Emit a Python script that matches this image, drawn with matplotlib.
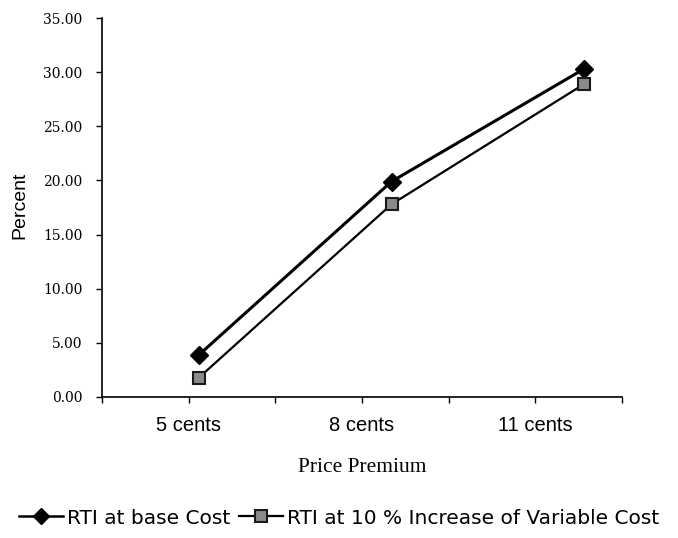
import numpy as np
import matplotlib
matplotlib.use("Agg")
import matplotlib.pyplot as plt
from matplotlib.lines import Line2D

categories = ["5 cents", "8 cents", "11 cents"]
rti_base = [3.9, 19.9, 30.3]
rti_var10 = [1.8, 17.8, 28.9]
y_ticks = [0, 5, 10, 15, 20, 25, 30, 35]
series_names = ["RTI at base Cost", "RTI at 10 % Increase of Variable Cost"]

fig = plt.figure(figsize=(6.78, 5.38), dpi=100)
ax = fig.add_axes([102 / 678, 141 / 538, 520 / 678, 379 / 538])

# category axis: three bins, labels in the centre of each bin
ax.set_xlim(0, 3)
ax.set_ylim(0, 35)
ax.set_xticks(np.arange(0, 3.01, 0.5))
ax.set_xticklabels([])
for i, lab in enumerate(categories):
    ax.text(i + 0.5, -0.075, lab, transform=ax.get_xaxis_transform(),
            ha="center", va="center", fontsize=14.5, family="Liberation Sans")
ax.set_yticks(y_ticks)
ax.set_yticklabels([f"{v:.2f}" for v in y_ticks], family="DejaVu Serif", fontsize=10)
ax.tick_params(axis="y", direction="out", length=4, width=1, pad=10)
ax.tick_params(axis="x", direction="out", length=4, width=1)
for s in ("top", "right"):
    ax.spines[s].set_visible(False)
ax.spines["left"].set_linewidth(1.2)
ax.spines["bottom"].set_linewidth(1.2)

ax.text(-0.158, 0.505, "Percent", transform=ax.transAxes, rotation=90,
        ha="center", va="center", family="Liberation Sans", fontsize=14)
ax.text(0.5, -0.185, "Price Premium", transform=ax.transAxes, ha="center",
        va="center", family="Liberation Serif", fontsize=15.5)

# series are plotted on their own horizontal scale
ax2 = ax.twiny()
ax2.set_xlim(-0.504, 2.197)
ax2.axis("off")
x = np.arange(len(categories))
ax2.plot(x, rti_base, color="black", lw=2.2, marker="D", ms=9.5,
         mfc="black", mec="black", zorder=3)
ax2.plot(x, rti_var10, color="black", lw=1.6, marker="s", ms=9,
         mfc="#8a8a8a", mec="#1a1a1a", mew=1.5, zorder=3)

handles = [
    Line2D([], [], color="black", lw=1.8, marker="D", ms=8, mfc="black", mec="black"),
    Line2D([], [], color="black", lw=1.6, marker="s", ms=8, mfc="#8a8a8a", mec="#1a1a1a", mew=1.5),
]
fig.legend(handles, series_names, loc="center", bbox_to_anchor=(0.5, 20 / 538),
           ncol=2, frameon=False, handlelength=2.2, handletextpad=0.2,
           columnspacing=0.4, prop={"family": "DejaVu Sans", "size": 14.5})

fig.savefig("out.png", dpi=100, facecolor="white")
